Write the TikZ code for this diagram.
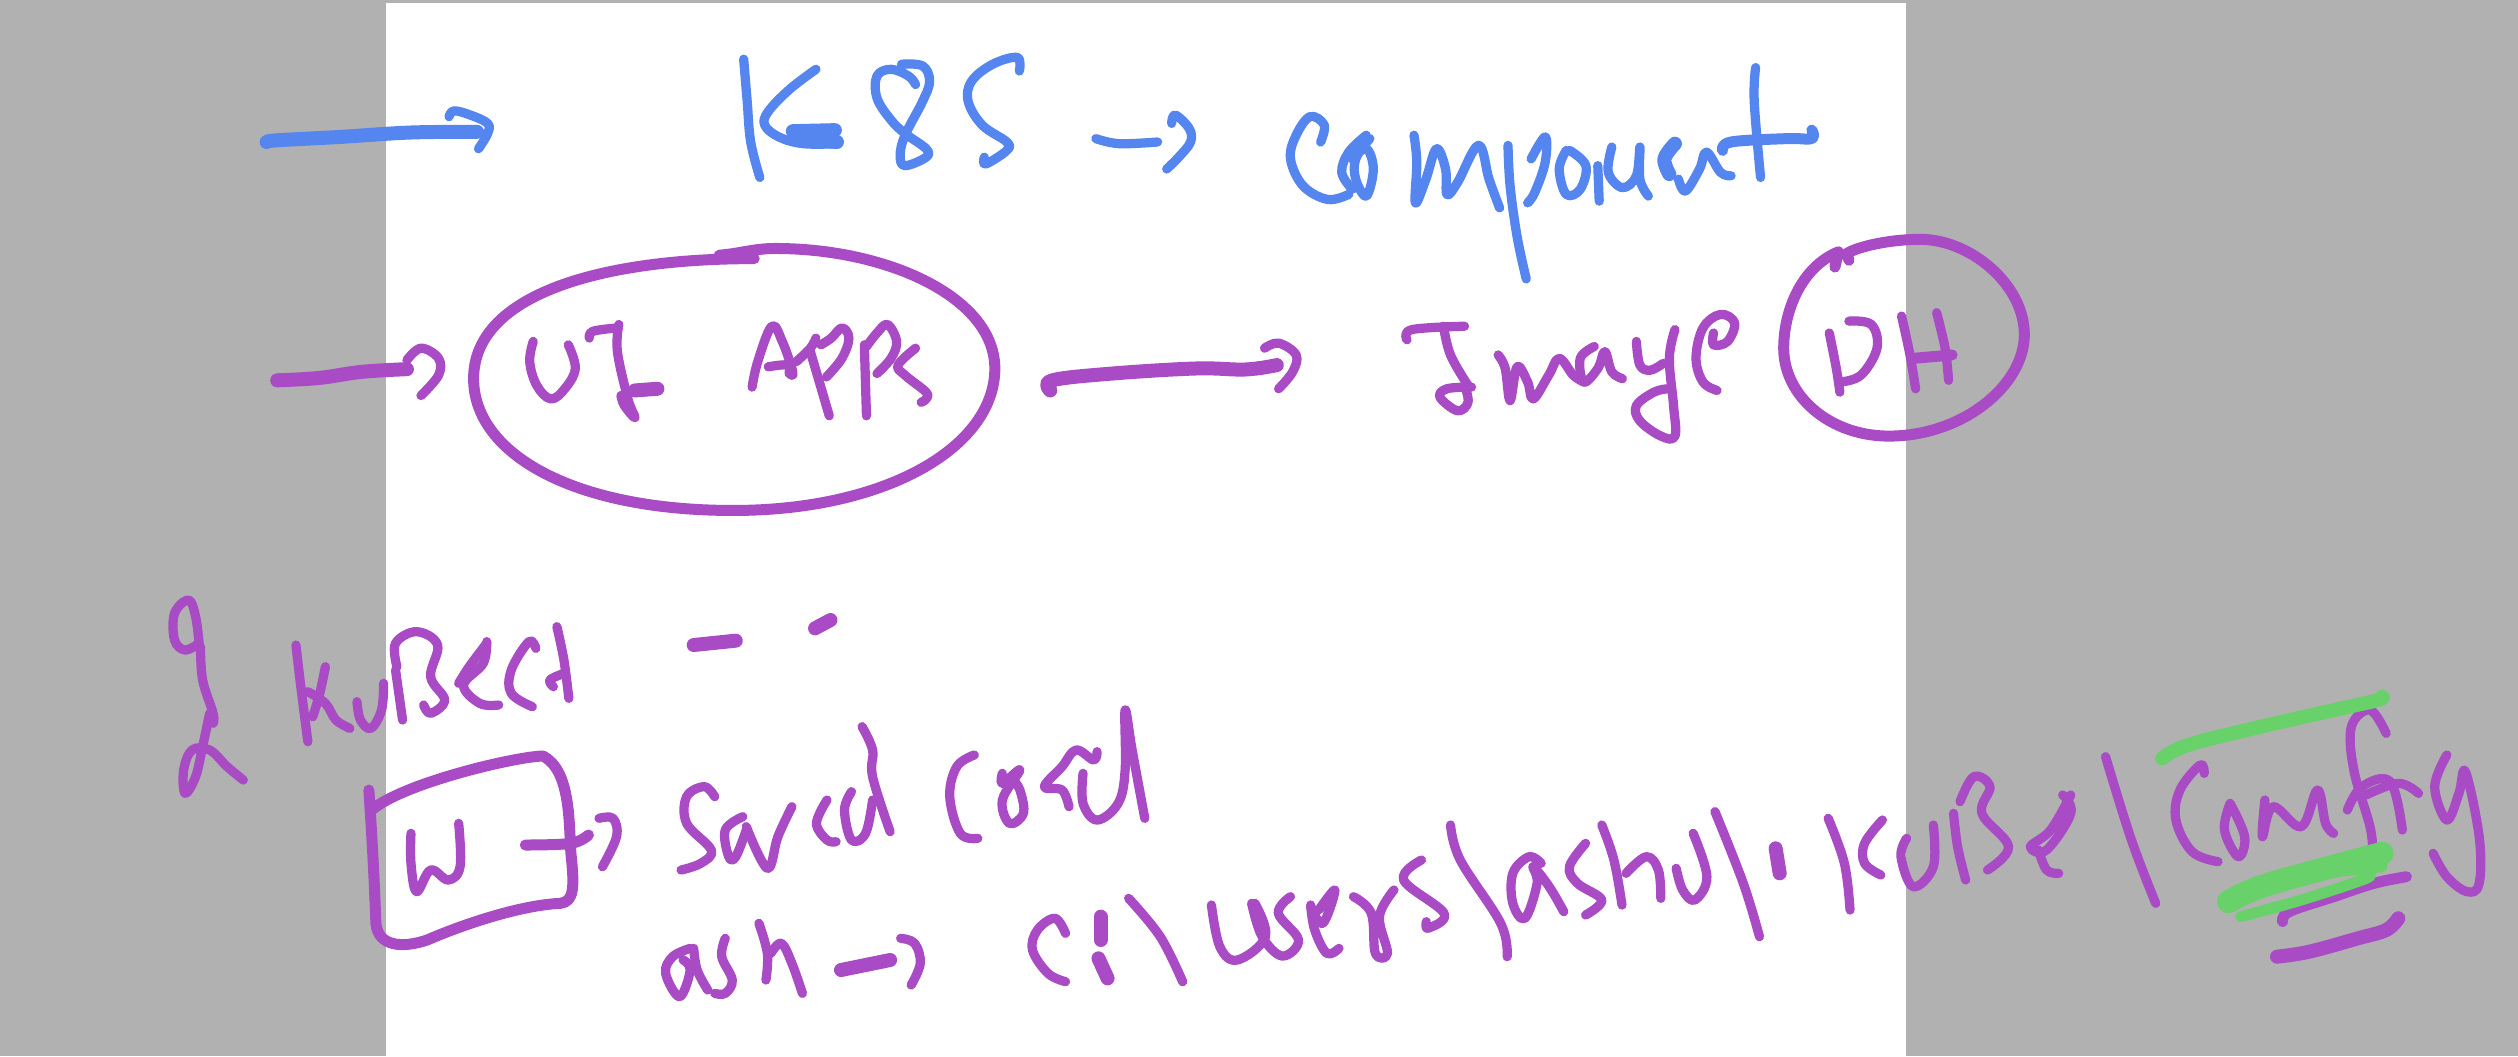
\documentclass[tikz,border=0pt]{standalone}
\definecolor{inkblue}{HTML}{5585EE}
\definecolor{inkpurple}{HTML}{A84BC4}
\definecolor{inkgreen}{HTML}{69D16A}
\definecolor{padgray}{HTML}{B1B1B1}
\tikzset{
  pen/.style={line width=1.85mm,line cap=round,line join=round},
  fat/.style={line width=2.8mm},
  ring/.style={line width=2.2mm},
  zonea/.style={shift={(200,0)},x=0.14030mm,y=-0.06761mm},
  zoneb/.style={shift={(1240,0)},x=0.14030mm,y=-0.06761mm},
  zonec/.style={shift={(150,570)},x=0.14030mm,y=-0.06667mm},
  zoned/.style={shift={(1250,670)},x=0.16173mm,y=-0.06667mm}
}
\newcommand\hs[2][]{\draw[pen,#1] plot[smooth,tension=0.62] coordinates {#2};}
\newcommand\hr[2][]{\draw[pen,ring,#1] plot[smooth,tension=0.62] coordinates {#2};}
\begin{document}
\begin{tikzpicture}[x=0.2mm,y=-0.2mm]
\useasboundingbox (0,0) rectangle (2518,1056);
\fill[padgray] (0,0) rectangle (2518,1056);
\fill[white] (386,3) rectangle (1906,1056);
% ---------- upper left
\begin{scope}[zonea]
\begin{scope}[color=inkblue]
\hs[fat]{(95,420)(110,415)(200,405)(300,392)(395,390)}
\hs{(355,345)(362,328)(385,340)(410,365)(410,395)(397,440)}
\hs{(775,175)(780,300)(785,420)(798,525)}
\hs{(878,205)(840,265)(810,330)(805,370)(825,405)(860,425)(910,425)}
\hs[fat]{(845,388)(905,385)}
\hs[fat]{(860,412)(908,420)}
\hs{(1020,250)(1010,225)(985,205)(965,225)(965,290)(985,355)(1005,395)(1035,440)(1035,465)(1005,490)(998,460)(1005,400)(1030,300)(1040,240)(1030,195)(1000,190)}
\hs{(1168,210)(1165,170)(1130,190)(1100,240)(1095,300)(1115,370)(1150,420)(1150,445)(1120,485)(1118,465)}
\hs{(1277,410)(1310,425)(1365,420)}
\hs{(1385,365)(1390,340)(1410,380)(1412,420)(1395,465)(1378,500)}
\end{scope}
\begin{scope}[color=inkpurple]
\draw[pen,ring] (790,765) .. controls (560,765) and (390,880) .. (390,1120)
  .. controls (390,1340) and (530,1510) .. (760,1510)
  .. controls (980,1510) and (1133,1320) .. (1133,1090)
  .. controls (1133,880) and (980,735) .. (820,735)
  .. controls (790,735) and (770,750) .. (740,755);
\hs{(475,1010)(470,1070)(480,1140)(500,1180)(520,1150)(535,1090)(525,1020)}
\hs{(555,1000)(560,980)(595,970)}
\hs{(597,960)(595,1040)(610,1180)(620,1235)(605,1200)(600,1170)}
\hs[fat]{(620,1155)(652,1150)}
\hs{(787,1145)(795,1070)(815,965)(830,1010)(845,1100)(840,1105)(838,1080)(810,1085)}
\hs{(850,1070)(870,1030)(878,1000)}
\hs{(870,1040)(880,1110)(897,1230)}
\hs{(885,1020)(900,1000)(915,970)(925,1000)(915,1060)(893,1115)}
\hs{(947,1020)(950,1230)}
\hs{(950,1025)(965,985)(980,960)(993,1010)(985,1060)(965,1105)}
\hs{(1020,1030)(995,1080)(1005,1110)(1035,1160)(1035,1180)(1028,1190)}
\hs[fat]{(110,1125)(170,1118)(230,1100)(295,1092)}
\hs{(295,1065)(315,1030)(340,1060)(340,1110)(315,1170)}
\hs[fat]{(1212,1155)(1215,1125)(1300,1105)(1420,1090)(1490,1093)(1535,1080)}
\end{scope}
\end{scope}
% ---------- upper right
\begin{scope}[zoneb]
\begin{scope}[color=inkblue]
\hs{(115,420)(120,370)(100,345)(80,400)(72,470)(90,550)(125,590)(155,575)}
\hs{(180,400)(155,450)(145,510)(160,560)}
\hs{(185,410)(165,470)(165,530)(180,580)(190,500)(180,440)(160,470)}
\hs{(248,400)(252,480)(250,600)(265,530)(280,440)(293,500)(295,575)(310,540)(340,430)(355,530)(370,615)}
\hs{(382,430)(385,550)(395,700)(408,825)}
\hs{(415,470)(435,405)(435,480)(420,570)(410,600)}
\hs{(465,445)(455,500)(465,575)(485,560)(493,490)(470,445)}
\hs{(512,595)(510,490)}
\hs{(530,435)(525,510)(545,555)(565,520)(570,435)(570,530)(582,580)}
\hs[fat]{(620,425)(605,470)(612,515)}
\hs{(625,530)(635,565)(655,500)(665,450)(685,510)(700,520)}
\hs{(735,200)(733,300)(742,525)}
\hr{(688,445)(700,420)(780,410)(815,410)(815,385)}
\end{scope}
\begin{scope}[color=inkpurple]
\hs{(35,1030)(55,1015)(80,1050)(75,1100)(55,1150)}
\hs{(238,1005)(245,975)(320,965)}
\hs{(290,965)(300,1050)(325,1140)}
\hs{(330,1145)(295,1150)(285,1175)(310,1215)(325,1190)(320,1140)}
\hs{(368,1050)(378,1090)(385,1185)(395,1085)(410,1130)(418,1180)(440,1110)(455,1060)(475,1110)(490,1130)}
\hs{(505,1025)(485,1060)(490,1130)(510,1090)(520,1040)(530,1100)(545,1120)}
\hs{(565,1010)(570,1080)(585,1095)(603,1075)}
\hs{(620,975)(612,1060)(618,1200)(620,1290)(600,1290)(570,1245)(565,1200)(590,1160)(610,1150)}
\hs{(680,1155)(660,1130)(650,1060)(660,970)(685,930)(705,955)(695,1010)(675,1020)(675,985)}
\draw[pen,ring] (848,790) -- (853,745) .. controls (800,790) and (775,920) .. (775,1030)
  .. controls (775,1170) and (840,1290) .. (925,1290)
  .. controls (1030,1290) and (1118,1140) .. (1118,990)
  .. controls (1118,840) and (1040,708) .. (970,708)
  .. controls (925,708) and (880,730) .. (865,750) -- (868,770);
\hs{(840,985)(850,1090)(855,1160)}
\hs{(868,950)(900,960)(908,1030)(885,1110)(855,1130)}
\hs{(943,935)(955,1050)(963,1150)}
\hs{(993,925)(1005,1030)(1010,1125)}
\hr{(960,1060)(1015,1050)}
\end{scope}
\end{scope}
% ---------- lower left
\begin{scope}[zonec,color=inkpurple]
\hs{(70,220)(65,140)(55,90)(35,130)(35,210)(50,240)(70,220)}
\hs{(72,230)(75,330)(90,430)(90,460)}
\hs{(85,430)(75,530)(65,620)(50,670)(48,600)(60,540)(85,540)(110,590)(133,630)}
\hs{(208,225)(215,350)(225,515)}
\hs{(250,290)(242,370)(232,440)}
\hs{(225,365)(250,400)(265,450)(285,475)}
\hs{(295,395)(300,450)(315,475)(330,420)(333,340)}
\hs{(350,300)(360,450)}
\hs{(352,290)(350,220)(380,185)(410,225)(400,320)(420,390)(400,430)(390,405)}
\hs{(480,220)(455,290)(440,340)}
\hs{(480,215)(475,280)(447,345)(470,400)(497,405)}
\hs{(550,235)(540,215)(515,300)(515,370)(545,410)}
\hs{(580,170)(590,270)(597,385)}
\hs{(575,350)(570,330)(590,310)}
\hs[fat]{(775,225)(835,212)}
\hs[fat]{(948,175)(970,150)}
\draw[pen,ring] (312,660) .. controls (318,850) and (320,950) .. (322,1060)
  .. controls (325,1130) and (360,1135) .. (395,1110)
  .. controls (450,1060) and (530,1005) .. (585,1000)
  .. controls (605,995) and (605,950) .. (600,850)
  .. controls (597,760) and (600,600) .. (560,558)
  .. controls (520,560) and (360,640) .. (316,720);
\hs{(372,790)(372,880)(380,965)(400,900)(425,930)(442,890)(440,760)}
\hr{(535,825)(600,820)(625,795)}
\hs{(640,745)(660,745)(665,800)(645,890)}
\hs{(805,680)(790,650)(765,680)(765,760)(800,840)(785,880)(757,900)}
\hs{(845,740)(820,780)(825,860)(835,860)(850,780)}
\hs{(850,770)(880,895)(895,800)(915,710)}
\hs{(965,690)(950,760)(965,810)(978,815)}
\hs{(1000,665)(990,720)(1000,810)(1020,790)(1030,690)}
\hs{(1015,470)(1030,540)(1030,620)(1055,785)}
\hs{(1175,555)(1150,590)(1140,680)(1155,790)(1180,805)}
\hs{(1215,610)(1215,640)(1240,600)(1215,690)(1225,760)(1245,730)(1240,660)(1230,630)}
\hs{(1350,545)(1345,570)(1320,540)(1300,590)(1275,650)(1300,660)(1310,710)}
\hs{(1330,610)(1330,700)(1350,750)(1380,700)(1390,600)(1390,420)(1400,540)(1418,745)}
\hs{(770,1135)(745,1160)(735,1210)(755,1280)(770,1200)(760,1170)}
\hs{(775,1135)(780,1200)(795,1260)}
\hs{(820,1105)(815,1160)(830,1230)(820,1270)(805,1270)}
\hs{(868,1060)(880,1150)(878,1230)}
\hs{(885,1150)(900,1120)(915,1180)(930,1270)}
\hs[fat]{(985,1200)(1055,1170)}
\hs{(1070,1105)(1090,1120)(1098,1180)(1085,1245)}
\hs{(1305,1090)(1290,1045)(1265,1080)(1258,1140)(1280,1210)(1305,1235)}
\hs[fat]{(1355,1040)(1355,1110)}
\hs[fat]{(1352,1165)(1365,1225)}
\hs{(1395,985)(1440,1100)(1472,1235)}
\hs{(1513,1005)(1525,1130)(1550,1170)(1590,1100)(1575,1000)}
\end{scope}
% ---------- lower right
\begin{scope}[zoned]
\begin{scope}[color=inkpurple]
\hs{(50,680)(35,730)(60,810)(40,858)(15,800)(2,700)}
\hs{(75,705)(80,780)(95,850)(110,835)}
\hs{(75,710)(90,760)(105,660)(85,720)}
\hs{(128,680)(150,730)(155,850)(170,850)(160,740)(178,660)}
\hs{(212,570)(190,630)(240,730)(220,775)(218,755)}
\hs{(248,465)(260,570)(310,760)(318,860)}
\hs{(360,580)(345,560)(325,610)(325,700)(340,745)(355,640)(350,590)(370,650)(388,725)}
\hs{(415,520)(395,590)(405,640)(435,690)(415,735)}
\hs{(435,465)(450,570)(460,705)}
\hs{(465,610)(490,560)(505,600)(508,685)}
\hs{(527,595)(535,660)(550,690)(565,620)(548,490)}
\hs{(575,425)(610,640)(630,800)}
\hs[fat]{(650,535)(655,610)}
\hs{(715,445)(735,580)(742,720)}
\hs{(782,450)(760,520)(760,580)(780,615)}
\hs{(812,505)(805,560)(820,650)(845,590)(845,465)}
\hs{(870,430)(875,530)(885,630)}
\hs{(878,395)(895,320)(915,350)(905,430)(938,530)(912,600)}
\hs{(1015,375)(990,480)(965,530)(985,540)(1015,430)(1005,375)}
\hs{(975,540)(985,600)(1000,610)}
\hs{(1058,260)(1090,510)(1120,700)}
\hs{(1180,310)(1175,285)(1150,360)(1145,450)(1165,545)(1197,575)}
\hs{(1212,400)(1205,480)(1222,560)(1230,500)(1212,400)}
\hs{(1255,390)(1252,500)(1265,410)(1300,470)(1320,360)(1330,460)(1340,490)}
\hs{(1405,190)(1385,120)(1362,170)(1365,300)(1385,470)(1388,540)}
\hs{(1357,420)(1375,350)(1410,335)(1425,480)}
\hs{(1380,375)(1420,340)(1445,370)}
\hs{(1480,255)(1465,350)(1480,450)(1495,370)(1503,305)(1520,500)(1520,640)(1505,665)(1480,620)(1463,550)}
\hr{(1430,620)(1390,640)(1340,680)(1285,725)(1277,755)}
\hs[fat]{(1420,745)(1405,780)(1370,805)(1310,845)(1270,860)}
\end{scope}
\begin{scope}[color=inkgreen]
\hs[fat]{(1128,265)(1160,225)(1250,170)(1350,115)(1395,90)(1400,80)}
\hs[line width=4.6mm]{(1210,695)(1250,650)(1330,595)(1400,550)}
\hr{(1325,610)(1400,590)}
\hr{(1225,740)(1300,690)(1375,630)(1385,615)}
\end{scope}
\end{scope}
\end{tikzpicture}
\end{document}
